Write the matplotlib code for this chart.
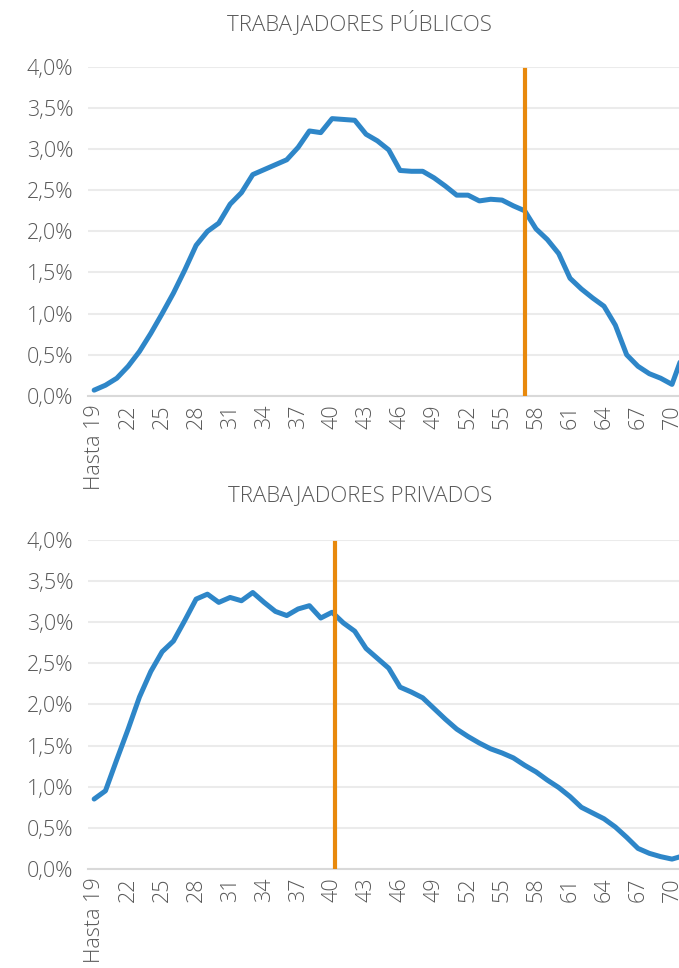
import numpy as np
import matplotlib.pyplot as plt
from matplotlib.ticker import FuncFormatter

# Datos

edades = ["Hasta 19"] + [str(e) for e in range(20, 71)] + ["71+"]

publicos = [0.07, 0.13, 0.215, 0.36, 0.54, 0.76, 1.00, 1.25, 1.53, 1.83,
            2.00, 2.10, 2.33, 2.47, 2.69, 2.75, 2.81, 2.87, 3.02, 3.22,
            3.20, 3.37, 3.36, 3.35, 3.18, 3.10, 2.99, 2.74, 2.73, 2.73,
            2.65, 2.55, 2.44, 2.44, 2.37, 2.39, 2.38, 2.31, 2.25, 2.03,
            1.90, 1.73, 1.43, 1.30, 1.19, 1.09, 0.86, 0.50, 0.36, 0.27,
            0.215, 0.14, 0.52]

privados = [0.85, 0.95, 1.33, 1.70, 2.09, 2.40, 2.64, 2.77, 3.02, 3.28,
            3.34, 3.24, 3.30, 3.26, 3.36, 3.24, 3.13, 3.08, 3.16, 3.20,
            3.05, 3.12, 2.99, 2.89, 2.68, 2.56, 2.44, 2.21, 2.15, 2.08,
            1.95, 1.82, 1.70, 1.61, 1.53, 1.46, 1.41, 1.35, 1.26, 1.18,
            1.08, 0.99, 0.88, 0.75, 0.68, 0.61, 0.51, 0.385, 0.25, 0.19,
            0.15, 0.12, 0.16]

# edad marcada con la linea vertical
marca_publicos = 57.0
marca_privados = 40.25

titulos = ["TRABAJADORES PÚBLICOS", "TRABAJADORES PRIVADOS"]

# Graficado

plt.rcParams['font.family'] = ['Open Sans', 'DejaVu Sans']
gris = "#595959"
azul = "#2E86C8"
naranja = "#E8890C"

fig = plt.figure(figsize=(6.79, 9.68), dpi=100)

posiciones = [[0.1303, 0.591, 0.8844, 0.340], [0.1303, 0.1023, 0.8844, 0.340]]
titulos_y = [0.977, 0.488]

x = np.arange(len(edades))

for pos, serie, marca, titulo, ty in zip(posiciones, [publicos, privados],
                                         [marca_publicos, marca_privados],
                                         titulos, titulos_y):
    ax = fig.add_axes(pos)
    ax.plot(x, serie, color=azul, linewidth=3.6, solid_joinstyle="round",
            solid_capstyle="round", zorder=3)
    xm = marca - 19
    ax.plot([xm, xm], [0, 3.96], color=naranja, linewidth=3, zorder=4)

    ax.set_xlim(-0.5, len(edades) - 0.5)
    ax.set_ylim(0, 4.0)
    ax.set_yticks(np.arange(0, 4.01, 0.5))
    ax.yaxis.set_major_formatter(FuncFormatter(lambda v, p: f"{v:.1f}%".replace(".", ",")))
    ax.set_xticks(x[::3])
    ax.set_xticklabels(edades[::3], rotation=90)

    ax.grid(axis="y", color="#EBEBEB", linewidth=1.5, zorder=0)
    for lado in ["top", "right", "left"]:
        ax.spines[lado].set_visible(False)
    ax.spines["bottom"].set_color("#D9D9D9")
    ax.spines["bottom"].set_linewidth(1.5)
    ax.tick_params(axis="both", length=0, labelsize=15.5, labelcolor=gris)
    ax.tick_params(axis="y", pad=11)
    ax.tick_params(axis="x", pad=6)
    for t in ax.get_xticklabels() + ax.get_yticklabels():
        t.set_fontweight("light")

    fig.text(0.530, ty, titulo, ha="center", va="center", fontsize=16,
             color=gris, fontweight="light")

fig.savefig("out.png", dpi=100)
